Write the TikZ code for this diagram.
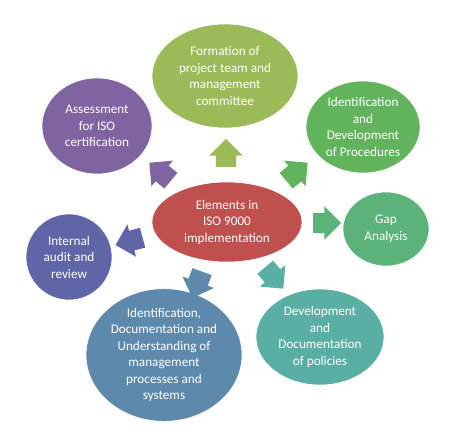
\documentclass[tikz,border=0pt]{standalone}
\usepackage{fontspec}
\setmainfont{Carlito}
\usetikzlibrary{shapes.geometric,shapes.arrows}
\definecolor{cred}{HTML}{C0504D}
\definecolor{cgreenA}{HTML}{9BBB59}
\definecolor{cgreenB}{HTML}{62B45C}
\definecolor{cgreenC}{HTML}{5BB37A}
\definecolor{cteal}{HTML}{5AAFA4}
\definecolor{cblue}{HTML}{5D89AC}
\definecolor{cindigo}{HTML}{6065A8}
\definecolor{cpurple}{HTML}{8064A2}
\tikzset{
  bubble/.style={ellipse, inner sep=0pt, align=center, text=white,
    font=\fontsize{13.2}{16.5}\selectfont, draw=white, line width=0.6pt},
  blockarrow/.style={single arrow, inner xsep=0pt, inner ysep=10pt,
    single arrow head extend=6.5pt, minimum height=28pt, single arrow head indent=0pt}
}
\begin{document}
\begin{tikzpicture}[x=1pt,y=-1pt]
\useasboundingbox[fill=white] (0,0) rectangle (450,432);
% outer bubbles
\node[bubble, fill=cgreenA, minimum width=146pt, minimum height=104pt] (form) at (225,76)
  {Formation of\\project team and\\management\\committee};
\node[bubble, fill=cpurple, minimum width=110pt, minimum height=96pt] (assess) at (97,126)
  {Assessment\\for ISO\\certification};
\node[bubble, fill=cgreenB, minimum width=114pt, minimum height=92pt] (proc) at (363,127)
  {Identification\\and\\Development\\of Procedures};
\node[bubble, fill=cgreenC, minimum width=86pt, minimum height=74pt] (gap) at (386,229)
  {Gap\\Analysis};
\node[bubble, fill=cindigo, minimum width=86pt, minimum height=86pt] (audit) at (69,257)
  {Internal\\audit and\\review};
\node[bubble, fill=cblue, minimum width=156pt, minimum height=106pt] (ident) at (164,355)
  {Identification,\\Documentation and\\Understanding of\\management\\processes and\\systems};
\node[bubble, fill=cteal, minimum width=128pt, minimum height=96pt] (policy) at (320,337)
  {Development\\and\\Documentation\\of policies};
% centre
\node[bubble, fill=cred, minimum width=150pt, minimum height=80pt] (centre) at (227,222)
  {Elements in\\ISO 9000\\implementation};
% block arrows
\node[blockarrow, fill=cgreenA, rotate=90] (aform) at (226,158) {};
\node[blockarrow, fill=cpurple, rotate=140] (aassess) at (164,175) {};
\node[blockarrow, fill=cgreenB, rotate=40] (aproc) at (293,175) {};
\node[blockarrow, fill=cgreenC, rotate=0] (agap) at (322,223) {};
\node[blockarrow, fill=cindigo, rotate=195] (aaudit) at (134,240) {};
\node[blockarrow, fill=cblue, rotate=-110] (aident) at (199,280) {};
\node[blockarrow, fill=cteal, rotate=-50] (apolicy) at (271,274) {};
\end{tikzpicture}
\end{document}
